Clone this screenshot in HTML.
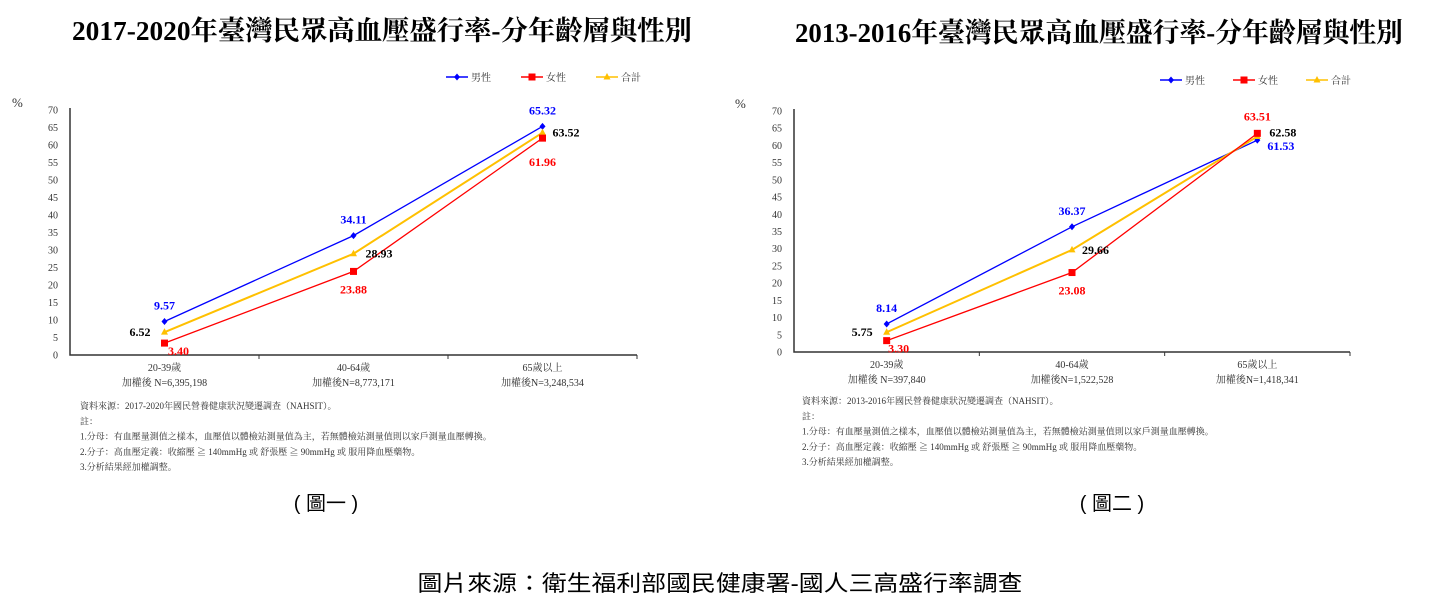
<!DOCTYPE html>
<html><head><meta charset="utf-8">
<style>
html,body{margin:0;padding:0;background:#fff;}
svg{display:block;}
.t{font-family:"Liberation Serif","Noto Serif CJK SC","Noto Sans CJK TC",serif;}
</style></head>
<body>
<svg id="s" width="1445" height="614" viewBox="0 0 1445 614" xmlns="http://www.w3.org/2000/svg">
<text class="t" x="72" y="40" font-size="27" font-weight="bold" textLength="620" lengthAdjust="spacingAndGlyphs">2017-2020年臺灣民眾高血壓盛行率-分年齡層與性別</text>
<text class="t" x="795" y="42" font-size="27" font-weight="bold" textLength="608" lengthAdjust="spacingAndGlyphs">2013-2016年臺灣民眾高血壓盛行率-分年齡層與性別</text>
<g id="c1"></g>
<g id="c2"></g>
<text x="326" y="510" font-size="20" text-anchor="middle" font-family="Liberation Sans,Noto Sans CJK TC,sans-serif">( 圖一 )</text>
<text x="1112" y="510" font-size="20" text-anchor="middle" font-family="Liberation Sans,Noto Sans CJK TC,sans-serif">( 圖二 )</text>
<text x="720" y="591" font-size="22" text-anchor="middle" textLength="605" lengthAdjust="spacingAndGlyphs" font-family="Liberation Sans,Noto Sans CJK TC,sans-serif">圖片來源：衛生福利部國民健康署-國人三高盛行率調查</text>
</svg>
<script>
const categories=["20-39歲","40-64歲","65歲以上"];
const yTicks=[0,5,10,15,20,25,30,35,40,45,50,55,60,65,70];
const seriesNames=["男性","女性","合計"];
const c1Male=[9.57,34.11,65.32];
const c1Female=[3.40,23.88,61.96];
const c1Total=[6.52,28.93,63.52];
const c1N=["加權後 N=6,395,198","加權後N=8,773,171","加權後N=3,248,534"];
const c2Male=[8.14,36.37,61.53];
const c2Female=[3.30,23.08,63.51];
const c2Total=[5.75,29.66,62.58];
const c2N=["加權後 N=397,840","加權後N=1,522,528","加權後N=1,418,341"];
const c1Notes=["資料來源：2017-2020年國民營養健康狀況變遷調查（NAHSIT）。","註：","1.分母：有血壓量測值之樣本，血壓值以體檢站測量值為主，若無體檢站測量值則以家戶測量血壓轉換。","2.分子：高血壓定義：收縮壓 ≧ 140mmHg  或  舒張壓 ≧ 90mmHg  或 服用降血壓藥物。","3.分析結果經加權調整。"];
const c2Notes=["資料來源：2013-2016年國民營養健康狀況變遷調查（NAHSIT）。","註：","1.分母：有血壓量測值之樣本，血壓值以體檢站測量值為主，若無體檢站測量值則以家戶測量血壓轉換。","2.分子：高血壓定義：收縮壓 ≧ 140mmHg  或  舒張壓 ≧ 90mmHg  或 服用降血壓藥物。","3.分析結果經加權調整。"];
const NS="http://www.w3.org/2000/svg";
const colors=["#0000ff","#ff0000","#ffc000"];
const labColors=["#0000ff","#ff0000","#000000"];
function mk(p,tag,a,txt){const e=document.createElementNS(NS,tag);for(const k in a)e.setAttribute(k,a[k]);if(txt!==undefined)e.textContent=txt;p.appendChild(e);return e;}
function marker(g,i,x,y,c){
  let m;
  if(i===0)m=mk(g,"polygon",{points:`${x},${y-3.5} ${x+3},${y} ${x},${y+3.5} ${x-3},${y}`,fill:c});
  else if(i===1)m=mk(g,"rect",{x:x-3.5,y:y-3.5,width:7,height:7,fill:c});
  else m=mk(g,"polygon",{points:`${x},${y-4} ${x+3.5},${y+2.5} ${x-3.5},${y+2.5}`,fill:c});
  return m;
}
function draw(id,cfg){
  const g=document.getElementById(id);
  const {x0,x1,y0,y70}=cfg;
  const xs=v=>x0+(x1-x0)/categories.length*(v+0.5);
  const ys=v=>y0-(y0-y70)*v/70;
  const pct=mk(g,"text",{x:cfg.pctX,y:cfg.pctY,"font-size":13,fill:"#333",class:"t"},"%");
  
  
  yTicks.forEach(t=>{
    const tl=mk(g,"text",{x:x0-12,y:ys(t)+3.5,"font-size":10,"text-anchor":"end",fill:"#333",class:"t"},String(t));
    
    
  });
  const ax=mk(g,"path",{d:`M${x0} ${y70-2}V${y0}H${x1}`,stroke:"#333","stroke-width":1.5,fill:"none"});
  
  
  for(let i=1;i<=categories.length;i++){
    const xt=x0+(x1-x0)/categories.length*i;
    mk(g,"line",{x1:xt,x2:xt,y1:y0,y2:y0+4,stroke:"#333"});
  }
  categories.forEach((c,i)=>{
    const a=mk(g,"text",{x:xs(i),y:y0+16,"font-size":10,"text-anchor":"middle",fill:"#333",class:"t"},c);
    
    
    const b=mk(g,"text",{x:xs(i),y:y0+31,"font-size":10,"text-anchor":"middle",fill:"#333",class:"t"},cfg.n[i]);
    
    
  });
  const series=[cfg.male,cfg.female,cfg.total];
  [0,2,1].forEach(si=>{
    const d=series[si];
    const pts=d.map((v,i)=>`${xs(i)},${ys(v)}`).join(" ");
    const pl=mk(g,"polyline",{points:pts,fill:"none",stroke:colors[si],"stroke-width":si===2?2:1.3});
    
    
    d.forEach((v,i)=>{
      const m=marker(g,si,xs(i),ys(v),colors[si]);
      
      
    });
  });
  series.forEach((d,si)=>{
    d.forEach((v,i)=>{
      const off=cfg.lab[si][i];
      const t=mk(g,"text",{x:xs(i)+off[0],y:ys(v)+off[1],"font-size":12,"font-weight":"bold","text-anchor":off[2]||"middle",fill:labColors[si],class:"t"},v.toFixed(2));
      
      
    });
  });
  seriesNames.forEach((n,i)=>{
    const lx=cfg.legX+i*cfg.legStep;
    const lg=mk(g,"g",{});
    
    
    mk(lg,"line",{x1:lx,x2:lx+22,y1:cfg.legY,y2:cfg.legY,stroke:colors[i],"stroke-width":1.5});
    marker(lg,i,lx+11,cfg.legY,colors[i]);
    mk(lg,"text",{x:lx+25,y:cfg.legY+4,"font-size":10,fill:"#333",class:"t"},n);
  });
  cfg.notes.forEach((s,i)=>{
    const t=mk(g,"text",{x:cfg.noteX,y:cfg.noteY+i*15.3,"font-size":9,fill:"#333",class:"t"},s);
    
    
  });
}
draw("c1",{x0:70,x1:637,y0:355,y70:110,male:c1Male,female:c1Female,total:c1Total,n:c1N,notes:c1Notes,
  pctX:12,pctY:107,legX:446,legStep:75,legY:77,noteX:80,noteY:409,
  lab:[[[0,-12],[0,-12],[0,-12]],[[14,12],[0,22],[0,28]],[[-14,4,"end"],[12,4,"start"],[10,4,"start"]]]});
draw("c2",{x0:794,x1:1350,y0:352,y70:111,male:c2Male,female:c2Female,total:c2Total,n:c2N,notes:c2Notes,
  pctX:735,pctY:108,legX:1160,legStep:73,legY:80,noteX:802,noteY:404,
  lab:[[[0,-12],[0,-12],[10,10,"start"]],[[12,12],[0,22],[0,-13]],[[-14,4,"end"],[10,4,"start"],[12,0,"start"]]]});
</script>
</body></html>
